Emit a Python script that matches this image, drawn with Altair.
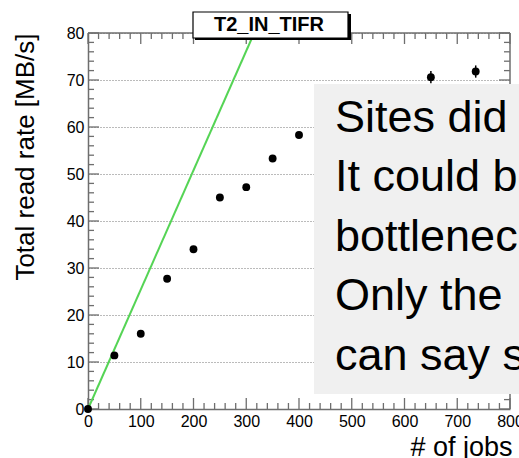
import altair as alt
import pandas as pd

# Measured read rate versus number of concurrent jobs
jobs = [0, 50, 100, 150, 200, 250, 300, 350, 400, 650, 735]
rate = [0.0, 11.4, 16.0, 27.7, 34.0, 45.0, 47.2, 53.3, 58.3, 70.6, 71.8]
rate_err = [0.3, 0.4, 0.4, 0.4, 0.4, 0.5, 0.5, 0.5, 0.5, 1.3, 1.3]

# Ideal linear scaling reference
ref_jobs = [0, 315]
ref_rate = [0, 80]

# Axis tick positions
x_major = list(range(0, 801, 100))
x_minor = [v for v in range(0, 801, 20) if v % 100]
y_major = list(range(0, 81, 10))
y_minor = [v for v in range(0, 81, 2) if v % 10]

site_name = "T2_IN_TIFR"
note_lines = ["Sites did not", "It could be", "bottleneck", "Only the", "can say so"]

W, H = 422, 376
FONT = "Liberation Sans"
AXIS_COLOR = "#6e6e6e"

xs = alt.Scale(domain=[0, 800], nice=False)
ys = alt.Scale(domain=[0, 80], nice=False)

pts = pd.DataFrame({"jobs": jobs, "rate": rate, "err": rate_err})
pts["lo"] = pts["rate"] - pts["err"]
pts["hi"] = pts["rate"] + pts["err"]
ref = pd.DataFrame({"jobs": ref_jobs, "rate": ref_rate})
one = pd.DataFrame({"k": [0]})

x_axis = alt.Axis(
    values=x_major, format="d", labelFont=FONT, labelFontSize=16, labelColor="black",
    labelPadding=4, ticks=False, grid=False, domainColor=AXIS_COLOR, domainWidth=1.5,
    labelFlush=False, labelOverlap=False,
    title="# of jobs", titleFont=FONT, titleFontSize=27, titleFontWeight="normal",
    titleColor="black", titleAnchor="end", titleAlign="right", titleX=W + 2, titleY=46,
    titleBaseline="alphabetic",
)
y_axis = alt.Axis(
    values=y_major, format="d", labelFont=FONT, labelFontSize=16, labelColor="black",
    labelPadding=4, ticks=False, grid=True, gridDash=[1, 2], gridColor="#777777",
    gridWidth=1, domainColor=AXIS_COLOR, domainWidth=1.5, labelFlush=False,
    labelOverlap=False,
    title="Total read rate [MB/s]", titleFont=FONT, titleFontSize=26,
    titleFontWeight="normal", titleColor="black", titleAngle=270, titleAnchor="end",
    titleAlign="right", titleX=-55, titleY=0, titleBaseline="alphabetic",
)

# Base layer carrying the axes (invisible points)
base = alt.Chart(pts).mark_point(opacity=0).encode(
    x=alt.X("jobs:Q", scale=xs, axis=x_axis),
    y=alt.Y("rate:Q", scale=ys, axis=y_axis),
)


def xticks(vals, length, top):
    df = pd.DataFrame({"jobs": vals})
    y0, y1 = (0, length) if top else (H, H - length)
    return alt.Chart(df).mark_rule(color=AXIS_COLOR, strokeWidth=1.3).encode(
        x=alt.X("jobs:Q", scale=xs),
        y=alt.value(y0), y2=alt.value(y1),
    )


def yticks(vals, length, right):
    df = pd.DataFrame({"rate": vals})
    x0, x1 = (W, W - length) if right else (0, length)
    return alt.Chart(df).mark_rule(color=AXIS_COLOR, strokeWidth=1.3).encode(
        y=alt.Y("rate:Q", scale=ys),
        x=alt.value(x0), x2=alt.value(x1),
    )


tick_layers = [
    xticks(x_major, 11, False), xticks(x_minor, 6, False),
    xticks(x_major, 11, True), xticks(x_minor, 6, True),
    yticks(y_major, 11, False), yticks(y_minor, 6, False),
    yticks(y_major, 11, True), yticks(y_minor, 6, True),
]

# Top and right frame lines
frame_top = alt.Chart(one).mark_rule(color=AXIS_COLOR, strokeWidth=1.5).encode(
    x=alt.value(0), x2=alt.value(W), y=alt.value(0)
)
frame_right = alt.Chart(one).mark_rule(color=AXIS_COLOR, strokeWidth=1.5).encode(
    x=alt.value(W), y=alt.value(0), y2=alt.value(H)
)

ref_line = alt.Chart(ref).mark_line(color="#55d455", strokeWidth=2).encode(
    x=alt.X("jobs:Q", scale=xs),
    y=alt.Y("rate:Q", scale=ys),
)

err_bars = alt.Chart(pts).mark_rule(color="black", strokeWidth=1.5).encode(
    x=alt.X("jobs:Q", scale=xs),
    y=alt.Y("lo:Q", scale=ys),
    y2="hi:Q",
)

dots = alt.Chart(pts).mark_circle(color="black", size=62, opacity=1).encode(
    x=alt.X("jobs:Q", scale=xs),
    y=alt.Y("rate:Q", scale=ys),
)

# Grey note panel with large text
panel = alt.Chart(one).mark_rect(color="#f0f0f0").encode(
    x=alt.value(226), x2=alt.value(460), y=alt.value(51), y2=alt.value(361)
)
note = alt.Chart(one).mark_text(
    text=note_lines, align="left", baseline="alphabetic", font=FONT,
    fontSize=45, lineHeight=59.6, color="black",
).encode(x=alt.value(247), y=alt.value(98.7))

# Title box with shadow
title_shadow = alt.Chart(one).mark_rect(color="black").encode(
    x=alt.value(107), x2=alt.value(263), y=alt.value(-19), y2=alt.value(7)
)
title_box = alt.Chart(one).mark_rect(fill="white", stroke="black", strokeWidth=1.2).encode(
    x=alt.value(105), x2=alt.value(260), y=alt.value(-21), y2=alt.value(5)
)
title_txt = alt.Chart(one).mark_text(
    text=site_name, align="center", baseline="alphabetic", font=FONT,
    fontSize=20, fontWeight="bold", color="black",
).encode(x=alt.value(181), y=alt.value(-2))

chart = alt.layer(
    base, *tick_layers, frame_top, frame_right, ref_line, err_bars, dots,
    panel, note, title_shadow, title_box, title_txt,
).properties(
    width=W, height=H,
    autosize=alt.AutoSizeParams(type="none"),
    padding={"left": 88, "top": 33, "right": 9, "bottom": 49},
    background="white",
).configure_view(stroke="transparent")

chart.save("out.html", embed_options={"renderer": "svg", "actions": False})
